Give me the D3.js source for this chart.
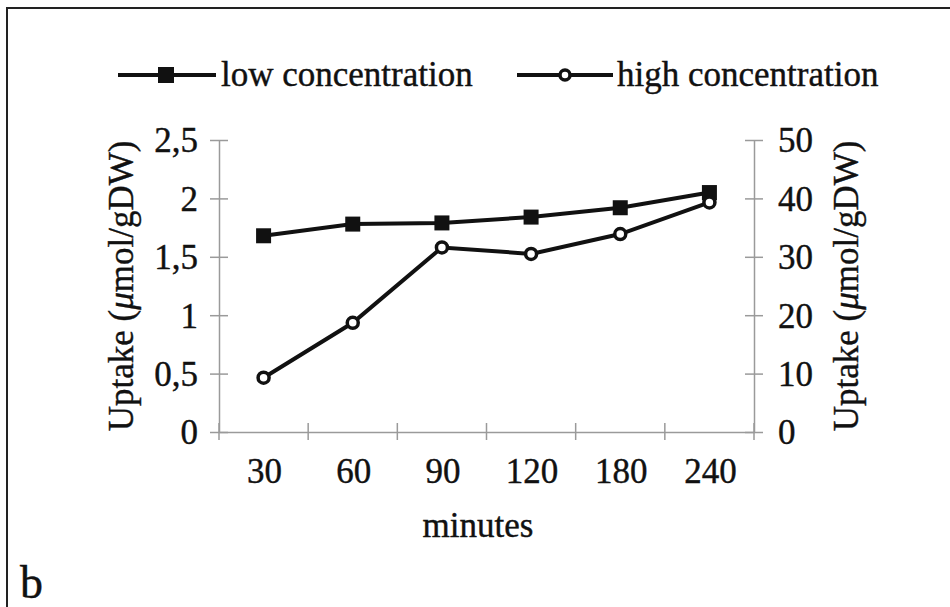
<!DOCTYPE html>
<html>
<head>
<meta charset="utf-8">
<script src="https://cdn.jsdelivr.net/npm/d3@7"></script>
<style>
  body { margin: 0; background: #fff; }
  svg text { font-family: "Liberation Serif", "Times New Roman", serif; fill: #111; stroke: #111; stroke-width: 0.4px; }
</style>
</head>
<body>
<div id="chart"></div>
<script>
// data
var minutes = ["30", "60", "90", "120", "180", "240"];
var lowConc = [1.68, 1.78, 1.79, 1.84, 1.92, 2.05];      // left axis
var highConc = [9.3, 18.7, 31.6, 30.5, 33.9, 39.3];      // right axis
var leftTicks = [0, 0.5, 1, 1.5, 2, 2.5];
var rightTicks = [0, 10, 20, 30, 40, 50];

function drawSvg() {
  var width = 950;
  var height = 607;
  var left = 219, right = 754, top = 140, bottom = 432;
  var fs = 35;

  var comma = d3.formatLocale({decimal: ",", thousands: ".", grouping: [3], currency: ["", ""]});
  var fmt = comma.format("~g");

  var xScale = d3.scaleBand()
    .domain(minutes)
    .range([left, right])
    .padding(0);

  var yLeft = d3.scaleLinear()
    .domain([0, 2.5])
    .range([bottom, top]);

  var yRight = d3.scaleLinear()
    .domain([0, 50])
    .range([bottom, top]);

  var svg = d3.select("#chart")
    .append("svg")
    .attr("width", width)
    .attr("height", height);

  // frame
  svg.append("rect")
    .attr("x", 7).attr("y", 8)
    .attr("width", 960).attr("height", 620)
    .attr("fill", "none")
    .attr("stroke", "#222")
    .attr("stroke-width", 2);

  var axisColor = "#9a9a9a";

  // x axis
  var xAxis = svg.append("g")
    .attr("transform", "translate(0," + bottom + ")")
    .call(d3.axisBottom(xScale).tickSize(0).tickFormat(""));
  xAxis.select(".domain").attr("stroke", axisColor).attr("stroke-width", 1.5);
  var xEdges = [left].concat(minutes.map(function(m) { return xScale(m) + xScale.bandwidth(); }));
  svg.selectAll(".xtick")
    .data(xEdges)
    .enter().append("line")
    .attr("x1", d => d).attr("x2", d => d)
    .attr("y1", bottom - 9).attr("y2", bottom + 8)
    .attr("stroke", axisColor).attr("stroke-width", 1.5);
  svg.selectAll(".xlab")
    .data(minutes)
    .enter().append("text")
    .attr("x", d => xScale(d) + xScale.bandwidth() / 2 + 1)
    .attr("y", 483)
    .attr("text-anchor", "middle")
    .attr("font-size", fs)
    .text(d => d);

  // left axis
  var yAxisL = svg.append("g")
    .attr("transform", "translate(" + left + ",0)")
    .call(d3.axisLeft(yLeft).tickValues(leftTicks).tickSizeOuter(0).tickSizeInner(9).tickPadding(12).tickFormat(fmt));
  yAxisL.select(".domain").attr("stroke", axisColor).attr("stroke-width", 1.5);
  yAxisL.selectAll(".tick line").attr("x2", -9).attr("x1", 9).attr("stroke", axisColor).attr("stroke-width", 1.5);
  yAxisL.selectAll(".tick text")
    .attr("x", -21)
    .attr("dy", "0.34em")
    .attr("font-size", fs)
    .attr("font-family", "Liberation Serif")
    .attr("fill", "#111");

  // right axis
  var yAxisR = svg.append("g")
    .attr("transform", "translate(" + right + ",0)")
    .call(d3.axisRight(yRight).tickValues(rightTicks).tickSizeOuter(0).tickSizeInner(9).tickPadding(14).tickFormat(d3.format("d")));
  yAxisR.select(".domain").attr("stroke", axisColor).attr("stroke-width", 1.5);
  yAxisR.selectAll(".tick line").attr("x1", -9).attr("x2", 9).attr("stroke", axisColor).attr("stroke-width", 1.5);
  yAxisR.selectAll(".tick text")
    .attr("x", 24)
    .attr("dy", "0.34em")
    .attr("font-size", fs)
    .attr("font-family", "Liberation Serif")
    .attr("fill", "#111");

  // axis titles
  function yTitle(x, y) {
    var t = svg.append("text")
      .attr("transform", "translate(" + x + "," + y + ") rotate(-90)")
      .attr("text-anchor", "middle")
      .attr("font-size", fs);
    t.append("tspan").text("Uptake (");
    t.append("tspan").attr("font-style", "italic").text("\u03bc");
    t.append("tspan").text("mol/gDW)");
  }
  yTitle(133, 286);
  yTitle(858, 286);

  svg.append("text")
    .attr("x", 478).attr("y", 537)
    .attr("text-anchor", "middle")
    .attr("font-size", fs)
    .text("minutes");

  svg.append("text")
    .attr("x", 20).attr("y", 598)
    .attr("font-size", 46)
    .text("b");

  // series lines
  var cx = d => xScale(d) + xScale.bandwidth() / 2;

  var lineLow = d3.line()
    .x((d, i) => cx(minutes[i]))
    .y(d => yLeft(d));
  var lineHigh = d3.line()
    .x((d, i) => cx(minutes[i]))
    .y(d => yRight(d));

  svg.append("path")
    .datum(lowConc)
    .attr("d", lineLow)
    .attr("fill", "none")
    .attr("stroke", "#111")
    .attr("stroke-width", 4);

  svg.append("path")
    .datum(highConc)
    .attr("d", lineHigh)
    .attr("fill", "none")
    .attr("stroke", "#111")
    .attr("stroke-width", 4);

  var sq = 15;
  svg.selectAll(".sq")
    .data(lowConc)
    .enter().append("rect")
    .attr("x", (d, i) => cx(minutes[i]) - sq / 2)
    .attr("y", d => yLeft(d) - sq / 2)
    .attr("width", sq).attr("height", sq)
    .attr("fill", "#111");

  svg.selectAll(".ci")
    .data(highConc)
    .enter().append("circle")
    .attr("cx", (d, i) => cx(minutes[i]))
    .attr("cy", d => yRight(d))
    .attr("r", 5.5)
    .attr("fill", "#fff")
    .attr("stroke", "#111")
    .attr("stroke-width", 3.5);

  // legend
  var ly = 75;
  svg.append("line")
    .attr("x1", 118).attr("x2", 216).attr("y1", ly).attr("y2", ly)
    .attr("stroke", "#111").attr("stroke-width", 4);
  svg.append("rect")
    .attr("x", 166 - 8).attr("y", ly - 8).attr("width", 16).attr("height", 16)
    .attr("fill", "#111");
  svg.append("text")
    .attr("x", 221).attr("y", ly + 11)
    .attr("font-size", fs)
    .text("low concentration");

  svg.append("line")
    .attr("x1", 517).attr("x2", 613).attr("y1", ly).attr("y2", ly)
    .attr("stroke", "#111").attr("stroke-width", 4);
  svg.append("circle")
    .attr("cx", 565).attr("cy", ly).attr("r", 5)
    .attr("fill", "#fff").attr("stroke", "#111").attr("stroke-width", 3.5);
  svg.append("text")
    .attr("x", 617).attr("y", ly + 11)
    .attr("font-size", fs)
    .text("high concentration");
}

drawSvg();
</script>
</body>
</html>
